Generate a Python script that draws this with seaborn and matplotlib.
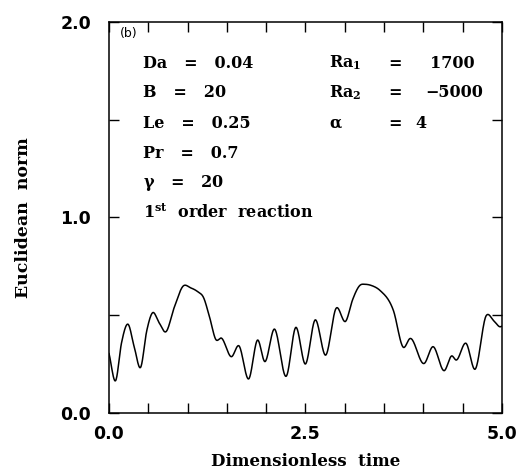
import matplotlib
matplotlib.use("Agg")
import matplotlib.pyplot as plt
from matplotlib.ticker import MultipleLocator, FormatStrFormatter
import seaborn as sns
import pandas as pd
import numpy as np

# Euclidean norm of the perturbation vs dimensionless time
time = [0.0, 0.085, 0.16, 0.242, 0.32, 0.403, 0.48, 0.552, 0.64, 0.722, 0.83,
        0.943, 1.04, 1.134, 1.2, 1.28, 1.359, 1.431, 1.558, 1.652, 1.779, 1.89,
        1.983, 2.102, 2.259, 2.374, 2.501, 2.62, 2.76, 2.887, 3.015, 3.1,
        3.19, 3.265, 3.34, 3.448, 3.618, 3.745, 3.83, 4.013, 4.119, 4.268,
        4.361, 4.416, 4.544, 4.658, 4.798, 4.9, 4.977, 5.0]
norm = [0.305, 0.166, 0.36, 0.454, 0.34, 0.234, 0.42, 0.512, 0.46, 0.415, 0.54,
        0.649, 0.64, 0.619, 0.593, 0.49, 0.376, 0.383, 0.288, 0.344, 0.175, 0.373,
        0.263, 0.429, 0.19, 0.437, 0.251, 0.475, 0.297, 0.534, 0.471, 0.58,
        0.652, 0.658, 0.652, 0.627, 0.525, 0.336, 0.381, 0.254, 0.339, 0.217,
        0.292, 0.271, 0.356, 0.224, 0.497, 0.47, 0.441, 0.444]

left_params = ["Da   =   0.04", "B   =   20", "Le   =   0.25", "Pr   =   0.7",
               r"$\gamma$   =   20", r"1$^{\mathbf{st}}$  order  reaction"]
right_names = [r"Ra$_{\mathbf{1}}$", r"Ra$_{\mathbf{2}}$", r"$\alpha$"]
right_values = ["1700", "\u22125000", "4"]

sns.set_style("ticks")
plt.rcParams["font.family"] = ["DejaVu Serif"]
plt.rcParams["mathtext.fontset"] = "dejavuserif"
plt.rcParams["mathtext.default"] = "bf"
for key in ["text.color", "axes.labelcolor", "xtick.color", "ytick.color",
            "axes.edgecolor"]:
    plt.rcParams[key] = "black"

fig = plt.figure(figsize=(5.23, 4.74), dpi=100)
ax = fig.add_axes([0.2084, 0.1287, 0.7514, 0.8249])

# dense cubic Hermite curve through the sampled values for a smooth trace
t = np.array(time)
y = np.array(norm)
tt = np.linspace(0, 5, 1200)
d = np.gradient(y, t)
idx = np.clip(np.searchsorted(t, tt) - 1, 0, len(t) - 2)
h = t[idx + 1] - t[idx]
s = (tt - t[idx]) / h
h00 = 2 * s**3 - 3 * s**2 + 1
h10 = s**3 - 2 * s**2 + s
h01 = -2 * s**3 + 3 * s**2
h11 = s**3 - s**2
yy = h00 * y[idx] + h10 * h * d[idx] + h01 * y[idx + 1] + h11 * h * d[idx + 1]

df = pd.DataFrame({"time": tt, "norm": yy})
sns.lineplot(data=df, x="time", y="norm", ax=ax, color="black", linewidth=1.1)

ax.set_xlim(0, 5)
ax.set_ylim(0, 2)
ax.xaxis.set_major_locator(MultipleLocator(2.5))
ax.xaxis.set_minor_locator(MultipleLocator(0.5))
ax.yaxis.set_major_locator(MultipleLocator(1.0))
ax.yaxis.set_minor_locator(MultipleLocator(0.5))
ax.xaxis.set_major_formatter(FormatStrFormatter("%.1f"))
ax.yaxis.set_major_formatter(FormatStrFormatter("%.1f"))
ax.tick_params(which="both", direction="in", top=True, right=True, length=7.5,
               width=1, labelsize=12.5, colors="black")
ax.tick_params(axis="x", pad=9)
ax.tick_params(axis="y", pad=13)
for lab in ax.get_xticklabels() + ax.get_yticklabels():
    lab.set_fontweight("bold")
    lab.set_family("DejaVu Sans")
for sp in ax.spines.values():
    sp.set_linewidth(1.1)
    sp.set_color("black")
    sp.set_visible(True)

ax.set_xlabel("Dimensionless  time", fontsize=12, fontweight="bold", labelpad=7)
ax.set_ylabel("Euclidean  norm", fontsize=12.5, fontweight="bold", labelpad=20)


def fig_xy(px, py):
    return px / 523, 1 - py / 474


fig.text(*fig_xy(120, 33), "(b)", fontsize=9, family="DejaVu Sans",
         va="center", ha="left")

rows_y = [63, 93, 123, 153, 183, 213]
for txt, py in zip(left_params, rows_y):
    fig.text(*fig_xy(143, py), txt, fontsize=11.5, fontweight="bold",
             va="center", ha="left")

value_x = [430, 425, 415]
for name, val, py, vx in zip(right_names, right_values, rows_y, value_x):
    fig.text(*fig_xy(329, py), name, fontsize=11.5, fontweight="bold", va="center")
    fig.text(*fig_xy(388, py), "=", fontsize=11.5, fontweight="bold", va="center")
    fig.text(*fig_xy(vx, py), val, fontsize=11.5, fontweight="bold", va="center")

fig.savefig("out.png", dpi=100, facecolor="white")
